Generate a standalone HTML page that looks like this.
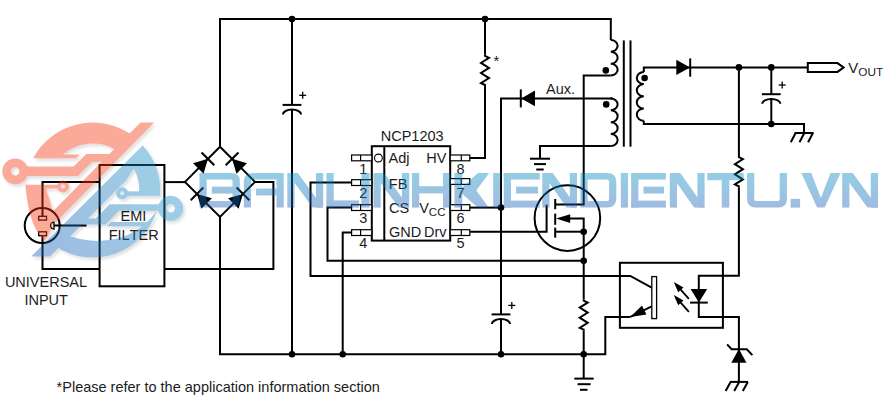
<!DOCTYPE html>
<html><head><meta charset="utf-8"><title>NCP1203 typical application</title>
<style>
html,body{margin:0;padding:0;background:#fff;}
body{width:892px;height:403px;overflow:hidden;}
svg{display:block;}
svg text{font-family:"Liberation Sans",sans-serif;fill:#1c1c1c;font-kerning:none;}
</style></head><body>
<svg width="892" height="403" viewBox="0 0 892 403">
<defs>
<linearGradient id="wg" gradientUnits="userSpaceOnUse" x1="0" y1="173" x2="0" y2="208">
<stop offset="0" stop-color="#008ac3"/><stop offset="1" stop-color="#1d5fb5"/>
</linearGradient>
<linearGradient id="lg" gradientUnits="userSpaceOnUse" x1="165" y1="165" x2="50" y2="255">
<stop offset="0" stop-color="#138fc3"/><stop offset="1" stop-color="#185fb5"/>
</linearGradient>
<filter id="sh" x="-10%" y="-10%" width="125%" height="125%"><feDropShadow dx="2" dy="2.5" stdDeviation="1.6" flood-color="#000" flood-opacity="0.3"/></filter>
</defs>
<rect width="892" height="403" fill="#fff"/>
<g id="circuit" transform="translate(0,0.4)">
<path d="M220.00,146.30 L220.00,18.70 L610.80,18.70 L610.80,39.50" fill="none" stroke="#000" stroke-width="2.0" />
<circle cx="292" cy="18.7" r="3.3" fill="#000"/>
<circle cx="485" cy="18.7" r="3.3" fill="#000"/>
<path d="M292.00,18.70 L292.00,104.50" fill="none" stroke="#000" stroke-width="2.0" />
<path d="M282.60,104.50 L301.40,104.50" fill="none" stroke="#000" stroke-width="2.0" />
<path d="M282.90,114.00 A9.10,4.8 0 0 1 301.10,114.00" fill="none" stroke="#000" stroke-width="2.0"/>
<path d="M292.00,108.80 L292.00,353.80" fill="none" stroke="#000" stroke-width="2.0" />
<path d="M299.20,94.90 L306.20,94.90" fill="none" stroke="#000" stroke-width="1.3" />
<path d="M302.70,91.40 L302.70,98.40" fill="none" stroke="#000" stroke-width="1.3" />
<path d="M220.00,216.50 L220.00,353.80 L605.30,353.80 L605.30,316.50 L630.30,316.50" fill="none" stroke="#000" stroke-width="2.0" />
<circle cx="292" cy="353.8" r="3.3" fill="#000"/>
<circle cx="342.7" cy="353.8" r="3.3" fill="#000"/>
<circle cx="501" cy="353.8" r="3.3" fill="#000"/>
<circle cx="583.7" cy="353.8" r="3.3" fill="#000"/>
<path d="M220.00,146.30 L255.00,181.50 L220.00,216.50 L185.00,181.50 L220.00,146.30" fill="none" stroke="#000" stroke-width="2.0" stroke-linejoin="miter"/>
<polygon points="203.57,173.32 193.08,162.88 207.92,158.45" fill="#000" stroke="none" stroke-width="2.0" stroke-linejoin="miter"/>
<path d="M214.30,164.80 L201.53,152.11" fill="none" stroke="#000" stroke-width="2.0" />
<polygon points="246.92,162.88 236.43,173.32 232.08,158.45" fill="#000" stroke="none" stroke-width="2.0" stroke-linejoin="miter"/>
<path d="M238.47,152.11 L225.70,164.80" fill="none" stroke="#000" stroke-width="2.0" />
<polygon points="211.87,197.90 201.40,208.37 197.02,193.52" fill="#000" stroke="none" stroke-width="2.0" stroke-linejoin="miter"/>
<path d="M203.38,187.16 L190.66,199.88" fill="none" stroke="#000" stroke-width="2.0" />
<polygon points="238.60,208.37 228.13,197.90 242.98,193.52" fill="#000" stroke="none" stroke-width="2.0" stroke-linejoin="miter"/>
<path d="M249.34,199.88 L236.62,187.16" fill="none" stroke="#000" stroke-width="2.0" />
<rect x="99.6" y="164.6" width="64.8" height="121.3" fill="none" stroke="#000" stroke-width="2.0"/>
<path d="M164.50,181.70 L185.00,181.70" fill="none" stroke="#000" stroke-width="2.0" />
<path d="M164.50,268.60 L273.40,268.60 L273.40,181.50 L255.00,181.50" fill="none" stroke="#000" stroke-width="2.0" />
<text x="133.5" y="220.7" font-size="14.5" text-anchor="middle">EMI</text>
<text x="133.7" y="240.0" font-size="14.5" text-anchor="middle">FILTER</text>
<circle cx="42.2" cy="225.2" r="17.5" fill="none" stroke="#000" stroke-width="2.0"/>
<path d="M99.60,181.70 L42.50,181.70 L42.50,216.00" fill="none" stroke="#000" stroke-width="2.0" />
<path d="M99.60,268.60 L42.50,268.60 L42.50,235.50" fill="none" stroke="#000" stroke-width="2.0" />
<rect x="38.7" y="215.9" width="7.8" height="3.8" fill="none" stroke="#000" stroke-width="1.3"/>
<rect x="38.7" y="231.4" width="7.8" height="3.9" fill="none" stroke="#000" stroke-width="1.3"/>
<path d="M54,221.7 A3.4,3.4 0 0 0 54,228.6 Z" fill="none" stroke="#000" stroke-width="1.3"/>
<path d="M54.00,225.10 L86.50,225.10" fill="none" stroke="#000" stroke-width="2.0" />
<text x="46" y="286.6" font-size="14.5" text-anchor="middle">UNIVERSAL</text>
<text x="46.2" y="304.6" font-size="14.5" text-anchor="middle">INPUT</text>
<rect x="371.8" y="145.8" width="78.4" height="94.4" fill="none" stroke="#000" stroke-width="2.0"/>
<path d="M384.30,145.80 L384.30,240.20" fill="none" stroke="#000" stroke-width="2.0" />
<circle cx="378.4" cy="157.6" r="3.9" fill="none" stroke="#000" stroke-width="1.1"/>
<rect x="351.6" y="154.60" width="20.2" height="5.8" fill="#fff" stroke="#000" stroke-width="1.2"/>
<path d="M360.60,154.60 L360.60,160.40" fill="none" stroke="#000" stroke-width="1.2" />
<rect x="450.2" y="154.60" width="19.6" height="5.8" fill="#fff" stroke="#000" stroke-width="1.2"/>
<path d="M461.30,154.60 L461.30,160.40" fill="none" stroke="#000" stroke-width="1.2" />
<text x="363.3" y="173.3" font-size="14.5" text-anchor="middle">1</text>
<text x="460.6" y="173.3" font-size="14.5" text-anchor="middle">8</text>
<rect x="351.6" y="179.30" width="20.2" height="5.8" fill="#fff" stroke="#000" stroke-width="1.2"/>
<path d="M360.60,179.30 L360.60,185.10" fill="none" stroke="#000" stroke-width="1.2" />
<rect x="450.2" y="178.20" width="19.6" height="5.8" fill="#fff" stroke="#000" stroke-width="1.2"/>
<path d="M461.30,178.20 L461.30,184.00" fill="none" stroke="#000" stroke-width="1.2" />
<text x="363.3" y="198.0" font-size="14.5" text-anchor="middle">2</text>
<text x="460.6" y="198.0" font-size="14.5" text-anchor="middle">7</text>
<rect x="351.6" y="204.30" width="20.2" height="5.8" fill="#fff" stroke="#000" stroke-width="1.2"/>
<path d="M360.60,204.30 L360.60,210.10" fill="none" stroke="#000" stroke-width="1.2" />
<rect x="450.2" y="204.30" width="19.6" height="5.8" fill="#fff" stroke="#000" stroke-width="1.2"/>
<path d="M461.30,204.30 L461.30,210.10" fill="none" stroke="#000" stroke-width="1.2" />
<text x="363.3" y="223.0" font-size="14.5" text-anchor="middle">3</text>
<text x="460.6" y="223.0" font-size="14.5" text-anchor="middle">6</text>
<rect x="351.6" y="229.30" width="20.2" height="5.8" fill="#fff" stroke="#000" stroke-width="1.2"/>
<path d="M360.60,229.30 L360.60,235.10" fill="none" stroke="#000" stroke-width="1.2" />
<rect x="450.2" y="229.30" width="19.6" height="5.8" fill="#fff" stroke="#000" stroke-width="1.2"/>
<path d="M461.30,229.30 L461.30,235.10" fill="none" stroke="#000" stroke-width="1.2" />
<text x="363.3" y="248.0" font-size="14.5" text-anchor="middle">4</text>
<text x="460.6" y="248.0" font-size="14.5" text-anchor="middle">5</text>
<text x="412.2" y="140.2" font-size="14.5" text-anchor="middle">NCP1203</text>
<text x="388.6" y="163.0" font-size="14.5" text-anchor="start">Adj</text>
<text x="446.4" y="163.0" font-size="14.5" text-anchor="end">HV</text>
<text x="388.8" y="188.9" font-size="14.5" text-anchor="start">FB</text>
<text x="389" y="212.4" font-size="14.5" text-anchor="start">CS</text>
<text x="419.2" y="212.4" font-size="14.5">V<tspan font-size="11.5" dy="3.4">CC</tspan></text>
<text x="388.9" y="236.5" font-size="14.5" text-anchor="start">GND</text>
<text x="446.5" y="236.5" font-size="14.5" text-anchor="end">Drv</text>
<path d="M351.60,182.20 L310.50,182.20 L310.50,275.50 L619.90,275.50 L630.30,275.50 L651.70,287.20" fill="none" stroke="#000" stroke-width="2.0" />
<path d="M351.60,207.20 L327.50,207.20 L327.50,260.40 L583.70,260.40" fill="none" stroke="#000" stroke-width="2.0" />
<path d="M351.60,232.20 L342.70,232.20 L342.70,353.80" fill="none" stroke="#000" stroke-width="2.0" />
<path d="M469.80,157.50 L485.00,157.50 L485.00,85.60" fill="none" stroke="#000" stroke-width="2.0" />
<path d="M485.00,54.30 L485.00,55.50 L489.00,57.50 L481.00,62.50 L489.00,67.50 L481.00,72.60 L489.00,77.70 L481.00,82.70 L485.00,84.60 L485.00,85.60" fill="none" stroke="#000" stroke-width="2.0" />
<path d="M485.00,18.70 L485.00,54.30" fill="none" stroke="#000" stroke-width="2.0" />
<text x="493.4" y="65.3" font-size="15" text-anchor="start">*</text>
<path d="M469.80,207.20 L501.00,207.20" fill="none" stroke="#000" stroke-width="2.0" />
<circle cx="501" cy="207.2" r="3.3" fill="#000"/>
<path d="M501.00,314.00 L501.00,98.00 L612.30,98.00" fill="none" stroke="#000" stroke-width="2.0" />
<path d="M491.60,314.00 L510.40,314.00" fill="none" stroke="#000" stroke-width="2.0" />
<path d="M491.90,323.50 A9.10,4.8 0 0 1 510.10,323.50" fill="none" stroke="#000" stroke-width="2.0"/>
<path d="M501.00,318.30 L501.00,353.80" fill="none" stroke="#000" stroke-width="2.0" />
<path d="M508.30,305.00 L515.30,305.00" fill="none" stroke="#000" stroke-width="1.3" />
<path d="M511.80,301.50 L511.80,308.50" fill="none" stroke="#000" stroke-width="1.3" />
<polygon points="535.00,90.20 535.00,105.80 521.20,98.00" fill="#000" stroke="none" stroke-width="2.0" stroke-linejoin="miter"/>
<path d="M520.80,89.00 L520.80,107.00" fill="none" stroke="#000" stroke-width="2.0" />
<text x="546" y="93.6" font-size="14.5" text-anchor="start">Aux.</text>
<path d="M610.80,39.50 A6.84,5.95 0 0 1 610.80,51.40 A6.84,5.95 0 0 1 610.80,63.30 A6.84,5.95 0 0 1 610.80,75.20" fill="none" stroke="#000" stroke-width="2.0"/>
<path d="M610.80,75.20 L583.70,75.20 L583.70,204.00 L555.20,204.00" fill="none" stroke="#000" stroke-width="2.0" />
<circle cx="605.8" cy="70" r="3.3" fill="#000"/>
<path d="M612.30,98.00 L610.80,98.00" fill="none" stroke="#000" stroke-width="2.0" />
<path d="M610.80,98.00 A6.84,5.95 0 0 1 610.80,109.90 A6.84,5.95 0 0 1 610.80,121.80 A6.84,5.95 0 0 1 610.80,133.70 A6.84,5.95 0 0 1 610.80,145.60" fill="none" stroke="#000" stroke-width="2.0"/>
<path d="M610.80,145.60 L540.00,145.60 L540.00,158.30" fill="none" stroke="#000" stroke-width="2.0" />
<circle cx="606.2" cy="104" r="3.3" fill="#000"/>
<path d="M530.00,158.30 L550.00,158.30" fill="none" stroke="#000" stroke-width="2.0" />
<path d="M534.00,163.70 L546.00,163.70" fill="none" stroke="#000" stroke-width="2.0" />
<path d="M536.30,169.10 L543.70,169.10" fill="none" stroke="#000" stroke-width="2.0" />
<path d="M623.80,40.00 L623.80,146.30" fill="none" stroke="#000" stroke-width="2.0" />
<path d="M630.50,40.00 L630.50,146.30" fill="none" stroke="#000" stroke-width="2.0" />
<path d="M808.00,67.00 L643.80,67.00 L643.80,71.50" fill="none" stroke="#000" stroke-width="2.0" />
<path d="M643.80,71.50 A7.01,6.10 0 0 0 643.80,83.70 A7.01,6.10 0 0 0 643.80,95.90 A7.01,6.10 0 0 0 643.80,108.10 A7.01,6.10 0 0 0 643.80,120.30" fill="none" stroke="#000" stroke-width="2.0"/>
<path d="M643.80,120.30 L643.80,123.60 L804.00,123.60 L804.00,132.60" fill="none" stroke="#000" stroke-width="2.0" />
<circle cx="644.6" cy="77.6" r="3.3" fill="#000"/>
<polygon points="676.30,59.30 676.30,74.70 690.00,67.00" fill="#000" stroke="none" stroke-width="2.0" stroke-linejoin="miter"/>
<path d="M690.20,58.00 L690.20,76.30" fill="none" stroke="#000" stroke-width="2.0" />
<circle cx="738.9" cy="67" r="3.3" fill="#000"/>
<circle cx="771.3" cy="67" r="3.3" fill="#000"/>
<circle cx="771.3" cy="123.6" r="3.3" fill="#000"/>
<path d="M771.30,67.00 L771.30,93.80" fill="none" stroke="#000" stroke-width="2.0" />
<path d="M761.90,93.80 L780.70,93.80" fill="none" stroke="#000" stroke-width="2.0" />
<path d="M762.20,103.30 A9.10,4.8 0 0 1 780.40,103.30" fill="none" stroke="#000" stroke-width="2.0"/>
<path d="M771.30,98.10 L771.30,123.60" fill="none" stroke="#000" stroke-width="2.0" />
<path d="M778.70,84.60 L785.70,84.60" fill="none" stroke="#000" stroke-width="1.3" />
<path d="M782.20,81.10 L782.20,88.10" fill="none" stroke="#000" stroke-width="1.3" />
<path d="M794.60,132.60 L813.60,132.60" fill="none" stroke="#000" stroke-width="2.0" />
<path d="M795.60,132.60 L790.80,141.80" fill="none" stroke="#000" stroke-width="2.0" />
<path d="M804.30,132.60 L799.50,141.80" fill="none" stroke="#000" stroke-width="2.0" />
<path d="M812.90,132.60 L808.10,141.80" fill="none" stroke="#000" stroke-width="2.0" />
<polygon points="807.80,62.70 837.50,62.70 843.60,67.10 837.50,71.50 807.80,71.50" fill="#fff" stroke="#000" stroke-width="2.0" stroke-linejoin="miter"/>
<text x="848.3" y="72.8" font-size="15">V<tspan font-size="11.8" dy="2.8">OUT</tspan></text>
<path d="M738.90,67.00 L738.90,155.60" fill="none" stroke="#000" stroke-width="2.0" />
<path d="M738.90,155.60 L738.90,156.80 L742.90,158.80 L734.90,163.80 L742.90,168.80 L734.90,173.90 L742.90,179.00 L734.90,184.00 L738.90,185.90 L738.90,186.90" fill="none" stroke="#000" stroke-width="2.0" />
<path d="M738.90,186.90 L738.90,275.30 L698.80,275.30 L698.80,316.50 L738.90,316.50 L738.90,381.50" fill="none" stroke="#000" stroke-width="2.0" />
<circle cx="567.4" cy="217.7" r="32.8" fill="none" stroke="#000" stroke-width="2.0"/>
<path d="M469.80,231.30 L546.60,231.30 L546.60,204.40" fill="none" stroke="#000" stroke-width="2.0" />
<path d="M555.20,198.60 L555.20,208.80" fill="none" stroke="#000" stroke-width="2.0" />
<path d="M555.20,213.20 L555.20,224.40" fill="none" stroke="#000" stroke-width="2.0" />
<path d="M555.20,227.20 L555.20,237.30" fill="none" stroke="#000" stroke-width="2.0" />
<path d="M555.20,231.30 L583.70,231.30" fill="none" stroke="#000" stroke-width="2.0" />
<path d="M570.00,218.20 L583.70,218.20 L583.70,299.00" fill="none" stroke="#000" stroke-width="2.0" />
<polygon points="570.20,213.80 570.20,222.60 556.00,218.20" fill="#000" stroke="none" stroke-width="2.0" stroke-linejoin="miter"/>
<circle cx="583.7" cy="231.3" r="3.3" fill="#000"/>
<circle cx="583.7" cy="260.4" r="3.3" fill="#000"/>
<path d="M583.70,299.00 L583.70,300.20 L587.70,302.20 L579.70,307.20 L587.70,312.20 L579.70,317.30 L587.70,322.40 L579.70,327.40 L583.70,329.30 L583.70,330.30" fill="none" stroke="#000" stroke-width="2.0" />
<path d="M583.70,330.30 L583.70,378.20" fill="none" stroke="#000" stroke-width="2.0" />
<path d="M574.30,378.20 L593.70,378.20" fill="none" stroke="#000" stroke-width="2.0" />
<path d="M577.60,383.80 L590.60,383.80" fill="none" stroke="#000" stroke-width="2.0" />
<path d="M580.00,389.40 L587.50,389.40" fill="none" stroke="#000" stroke-width="2.0" />
<rect x="619.9" y="262.4" width="103" height="65" fill="none" stroke="#000" stroke-width="2.0"/>
<rect x="651.8" y="276.2" width="4.8" height="42" fill="#fff" stroke="#000" stroke-width="1.3"/>
<path d="M651.70,305.90 L630.30,316.50" fill="none" stroke="#000" stroke-width="2.0" />
<polygon points="630.30,316.50 641.97,305.14 646.41,314.10" fill="#000" stroke="none" stroke-width="2.0" stroke-linejoin="miter"/>
<polygon points="690.60,288.50 707.20,288.50 698.90,302.00" fill="#000" stroke="none" stroke-width="2.0" stroke-linejoin="miter"/>
<path d="M690.00,302.20 L707.80,302.20" fill="none" stroke="#000" stroke-width="2.0" />
<path d="M688.90,298.40 L676.00,284.00" fill="none" stroke="#000" stroke-width="1.8" />
<polygon points="673.80,281.60 683.42,287.07 678.22,291.75" fill="#000" stroke="none" stroke-width="2.0" stroke-linejoin="miter"/>
<path d="M688.90,311.40 L676.00,297.00" fill="none" stroke="#000" stroke-width="1.8" />
<polygon points="673.80,294.60 683.42,300.07 678.22,304.75" fill="#000" stroke="none" stroke-width="2.0" stroke-linejoin="miter"/>
<polygon points="731.30,362.40 746.50,362.40 738.90,348.60" fill="#000" stroke="none" stroke-width="2.0" stroke-linejoin="miter"/>
<path d="M727.10,344.00 L731.60,348.90 L746.80,348.90 L752.40,354.70" fill="none" stroke="#000" stroke-width="2.0" />
<path d="M730.00,381.50 L748.00,381.50" fill="none" stroke="#000" stroke-width="2.0" />
<path d="M730.60,381.50 L725.60,390.60" fill="none" stroke="#000" stroke-width="2.0" />
<path d="M739.20,381.50 L734.20,390.60" fill="none" stroke="#000" stroke-width="2.0" />
<path d="M747.80,381.50 L742.80,390.60" fill="none" stroke="#000" stroke-width="2.0" />
<text x="56.6" y="392.0" font-size="14.5" text-anchor="start">*Please refer to the application information section</text>
</g>
<g id="watermark" opacity="0.42">
<g fill="url(#wg)">
<path d="M199.5,173.0 H231.8 Q239.8,173.0 239.8,181.0 V199.6 Q239.8,207.6 231.8,207.6 H199.5 Z M206.7,179.6 V201.0 H230.60000000000002 Q232.60000000000002,201.0 232.60000000000002,199.0 V181.6 Q232.60000000000002,179.6 230.60000000000002,179.6 Z" fill-rule="evenodd"/>
<rect x="211.80" y="186.60" width="25.00" height="7.00"/>
<path d="M243.8,207.6 V182.0 Q243.8,173.0 252.8,173.0 H283.7 V207.6 H276.5 V179.6 H253.5 Q251.0,179.6 251.0,182.1 V207.6 Z"/>
<rect x="256.10" y="188.60" width="20.60" height="6.80"/>
<rect x="287.30" y="173.00" width="7.20" height="34.60"/>
<rect x="316.00" y="173.00" width="7.20" height="34.60"/>
<polygon points="287.30,173.00 297.80,173.00 323.20,207.60 312.70,207.60"/>
<rect x="326.50" y="173.00" width="7.20" height="34.60"/>
<rect x="326.50" y="200.40" width="32.50" height="7.20"/>
<rect x="361.40" y="173.00" width="8.20" height="34.60"/>
<rect x="373.50" y="173.00" width="7.20" height="34.60"/>
<rect x="402.00" y="173.00" width="7.20" height="34.60"/>
<polygon points="373.50,173.00 384.00,173.00 409.20,207.60 398.70,207.60"/>
<rect x="412.00" y="173.00" width="7.20" height="34.60"/>
<rect x="443.00" y="173.00" width="7.20" height="34.60"/>
<rect x="412.00" y="186.20" width="38.20" height="7.20"/>
<rect x="454.50" y="173.00" width="7.80" height="34.60"/>
<polygon points="478.00,173.00 489.20,173.00 476.30,190.60 488.70,207.60 477.80,207.60 462.00,193.80 462.00,187.40"/>
<rect x="493.20" y="173.00" width="7.20" height="34.60"/>
<rect x="503.80" y="173.00" width="7.20" height="34.60"/>
<rect x="503.80" y="173.00" width="36.00" height="6.60"/>
<rect x="503.80" y="200.60" width="36.00" height="7.00"/>
<rect x="516.10" y="186.60" width="21.90" height="7.00"/>
<rect x="542.30" y="173.00" width="7.20" height="34.60"/>
<rect x="569.80" y="173.00" width="7.20" height="34.60"/>
<polygon points="542.30,173.00 552.80,173.00 577.00,207.60 566.50,207.60"/>
<path d="M580.4,173.0 H607.3 Q616.3,173.0 616.3,182.0 V198.6 Q616.3,207.6 607.3,207.6 H580.4 Z M587.6,179.6 V201.0 H606.5999999999999 Q609.0999999999999,201.0 609.0999999999999,198.5 V182.1 Q609.0999999999999,179.6 606.5999999999999,179.6 Z" fill-rule="evenodd"/>
<rect x="620.80" y="173.00" width="7.20" height="34.60"/>
<rect x="631.20" y="173.00" width="7.20" height="34.60"/>
<rect x="631.20" y="173.00" width="34.70" height="6.60"/>
<rect x="631.20" y="200.60" width="34.70" height="7.00"/>
<rect x="643.50" y="186.60" width="20.60" height="7.00"/>
<rect x="669.80" y="173.00" width="7.20" height="34.60"/>
<rect x="697.40" y="173.00" width="7.20" height="34.60"/>
<polygon points="669.80,173.00 680.30,173.00 704.60,207.60 694.10,207.60"/>
<rect x="707.30" y="173.00" width="36.40" height="7.20"/>
<rect x="721.70" y="173.00" width="7.60" height="34.60"/>
<path d="M747.1,173.0 H754.3000000000001 V199.7 Q754.3000000000001,201.0 757.1,201.0 H776.9 Q779.6999999999999,201.0 779.6999999999999,199.7 V173.0 H786.9 V199.1 Q786.9,207.6 778.4,207.6 H755.6 Q747.1,207.6 747.1,199.1 Z"/>
<rect x="790.60" y="198.90" width="9.50" height="8.70"/>
<polygon points="801.30,173.00 811.30,173.00 820.90,198.10 830.50,173.00 840.50,173.00 824.70,207.60 817.10,207.60"/>
<rect x="842.20" y="173.00" width="7.20" height="34.60"/>
<rect x="870.80" y="173.00" width="7.20" height="34.60"/>
<polygon points="842.20,173.00 852.70,173.00 878.00,207.60 867.50,207.60"/>
</g>
<g filter="url(#sh)">
<g fill="#f53211">
<path d="M33.16,158.2 A67.5,67.5 0 0 1 129.7,133.6 L136,140 L121,153 L114.4,148.9 A46.5,46.5 0 0 0 62.67,154.5 L79.6,154.5 L75.9,158.2 Z"/>
<polygon points="140.5,122.4 154.1,122.4 56.98,221 43.38,221"/>
<polygon points="26,166.6 73.6,166.6 86.3,154 122.97,154 104.69,161.8 92.2,161.8 78,176 26,176"/>
<path fill-rule="evenodd" d="M2.3,171.3 a12.9,12.9 0 1 0 25.8,0 a12.9,12.9 0 1 0 -25.8,0 Z M11,171.3 a4.2,4.2 0 1 0 8.4,0 a4.2,4.2 0 1 0 -8.4,0 Z"/>
<path d="M25.40,184.8 C27.2,205 31,228 44.6,240.4 Q59.5,222 46.6,192 L46.5,188.4 L58,188.4 L58,184.8 Z"/>
<path fill-rule="evenodd" d="M57,186.4 a6,6 0 1 0 12,0 a6,6 0 1 0 -12,0 Z M60.9,186.4 a2.1,2.1 0 1 0 4.2,0 a2.1,2.1 0 1 0 -4.2,0 Z"/>
</g>
<g fill="url(#lg)">
<polygon points="142.6,145.5 31.2,256.6 49.8,256.6 126.2,180.2 134.2,168.1 150,155"/>
<path d="M142.6,145.5 A67.5,67.5 0 0 1 159.95,195.8 L138.84,195.8 A46.5,46.5 0 0 0 133.9,168.4 Z"/>
<rect x="126.5" y="191.4" width="14" height="4.4"/>
<path fill-rule="evenodd" d="M116.1,193.3 a6,6 0 1 0 12,0 a6,6 0 1 0 -12,0 Z M120,193.3 a2.1,2.1 0 1 0 4.2,0 a2.1,2.1 0 1 0 -4.2,0 Z"/>
<path fill-rule="evenodd" d="M158.2,208.3 a12.5,12.5 0 1 0 25,0 a12.5,12.5 0 1 0 -25,0 Z M166.5,208.3 a4.2,4.2 0 1 0 8.4,0 a4.2,4.2 0 1 0 -8.4,0 Z"/>
<polygon points="162,204.3 109.7,204.3 95.5,218.6 80,218.6 74,224.5 105.5,224.5 119.2,210.8 162,210.8"/>
<polygon points="151.5,222 111.1,222 106.6,226.3 147,226.3"/>
<path d="M55.79,246.51 A67.5,67.5 0 0 0 157.25,209.74 L162,210.3 L160,206 Q146,228 124,236.5 Q92,247 60,232.3 Z"/>
</g>
</g>
</g>
</svg>
</body></html>
